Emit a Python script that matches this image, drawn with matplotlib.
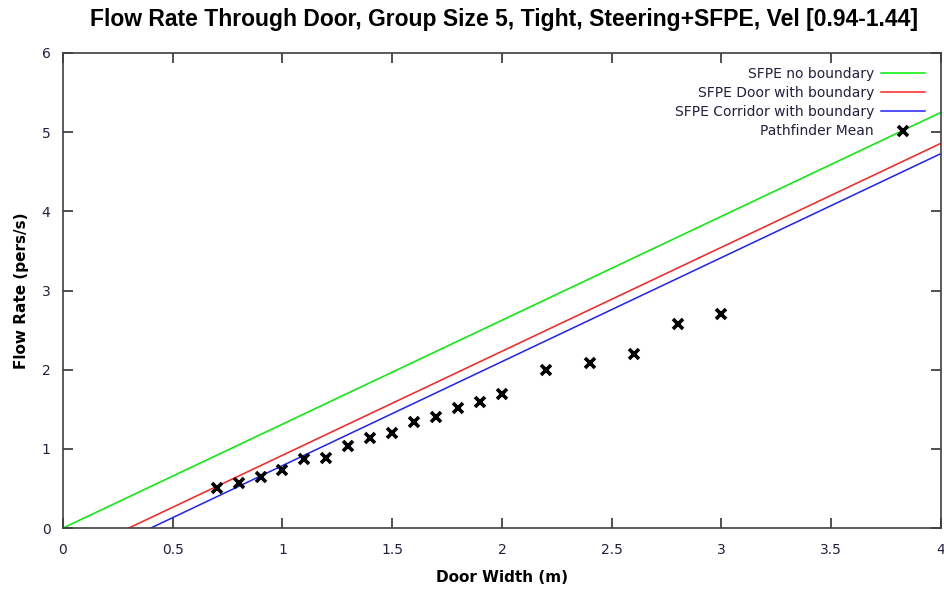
import matplotlib
matplotlib.use("Agg")
import matplotlib.pyplot as plt

# Theoretical SFPE lines (endpoints)
nb_x = [0.0, 4.0]
nb_y = [0.0, 5.25]
door_x = [0.3, 4.0]
door_y = [0.0, 4.86]
corr_x = [0.4, 4.0]
corr_y = [0.0, 4.73]

# Pathfinder mean
pf_x = [0.7, 0.8, 0.9, 1.0, 1.1, 1.2, 1.3, 1.4, 1.5, 1.6, 1.7, 1.8, 1.9, 2.0,
        2.2, 2.4, 2.6, 2.8, 3.0]
pf_y = [0.51, 0.565, 0.64, 0.73, 0.87, 0.89, 1.03, 1.14, 1.20, 1.34, 1.40, 1.515,
        1.595, 1.69, 2.00, 2.08, 2.20, 2.58, 2.70]

xticks = [0, 0.5, 1, 1.5, 2, 2.5, 3, 3.5, 4]
xticklabels = ["0", "0.5", "1", "1.5", "2", "2.5", "3", "3.5", "4"]
yticks = [0, 1, 2, 3, 4, 5, 6]

fig = plt.figure(figsize=(9.45, 5.9), dpi=100)
ax = fig.add_axes([63/945, 62/590, (941-63)/945, (528-53)/590])

ax.plot(nb_x, nb_y, color="#00ee00", lw=1.1, label="SFPE no boundary")
ax.plot(door_x, door_y, color="#ff2020", lw=1.1, label="SFPE Door with boundary")
ax.plot(corr_x, corr_y, color="#2020ff", lw=1.1, label="SFPE Corridor with boundary")
ax.plot(pf_x, pf_y, linestyle="none", marker="x", color="black", ms=7, mew=2.6,
        label="Pathfinder Mean")

ax.set_xlim(0, 4)
ax.set_ylim(0, 6)
ax.set_xticks(xticks)
ax.set_xticklabels(xticklabels)
ax.set_yticks(yticks)
ax.tick_params(direction="in", length=7, width=1.2, top=True, right=True,
               labelsize=10, colors="#333333", labelcolor="#202040")
ax.tick_params(axis="x", pad=11)
ax.tick_params(axis="y", pad=9)
for s in ax.spines.values():
    s.set_color("#404040")
    s.set_linewidth(1.2)

ax.set_xlabel("Door Width (m)", fontsize=11, fontweight="bold", labelpad=9)
ax.set_ylabel("Flow Rate (pers/s)", fontsize=11, fontweight="bold", labelpad=9)
fig.suptitle("Flow Rate Through Door, Group Size 5, Tight, Steering+SFPE, Vel [0.94-1.44]",
             x=0.533, y=0.986, fontsize=16.5, fontweight="bold", family="Liberation Sans")

leg = ax.legend(loc="upper right", frameon=False, markerfirst=False, fontsize=10,
                handlelength=3.2, labelspacing=0.38, borderaxespad=0.0,
                handletextpad=0.5, bbox_to_anchor=(1 - 10/878, 1 - 8/475))
for t in leg.get_texts():
    t.set_color("#202040")

fig.savefig("out.png", dpi=100, facecolor="white")
